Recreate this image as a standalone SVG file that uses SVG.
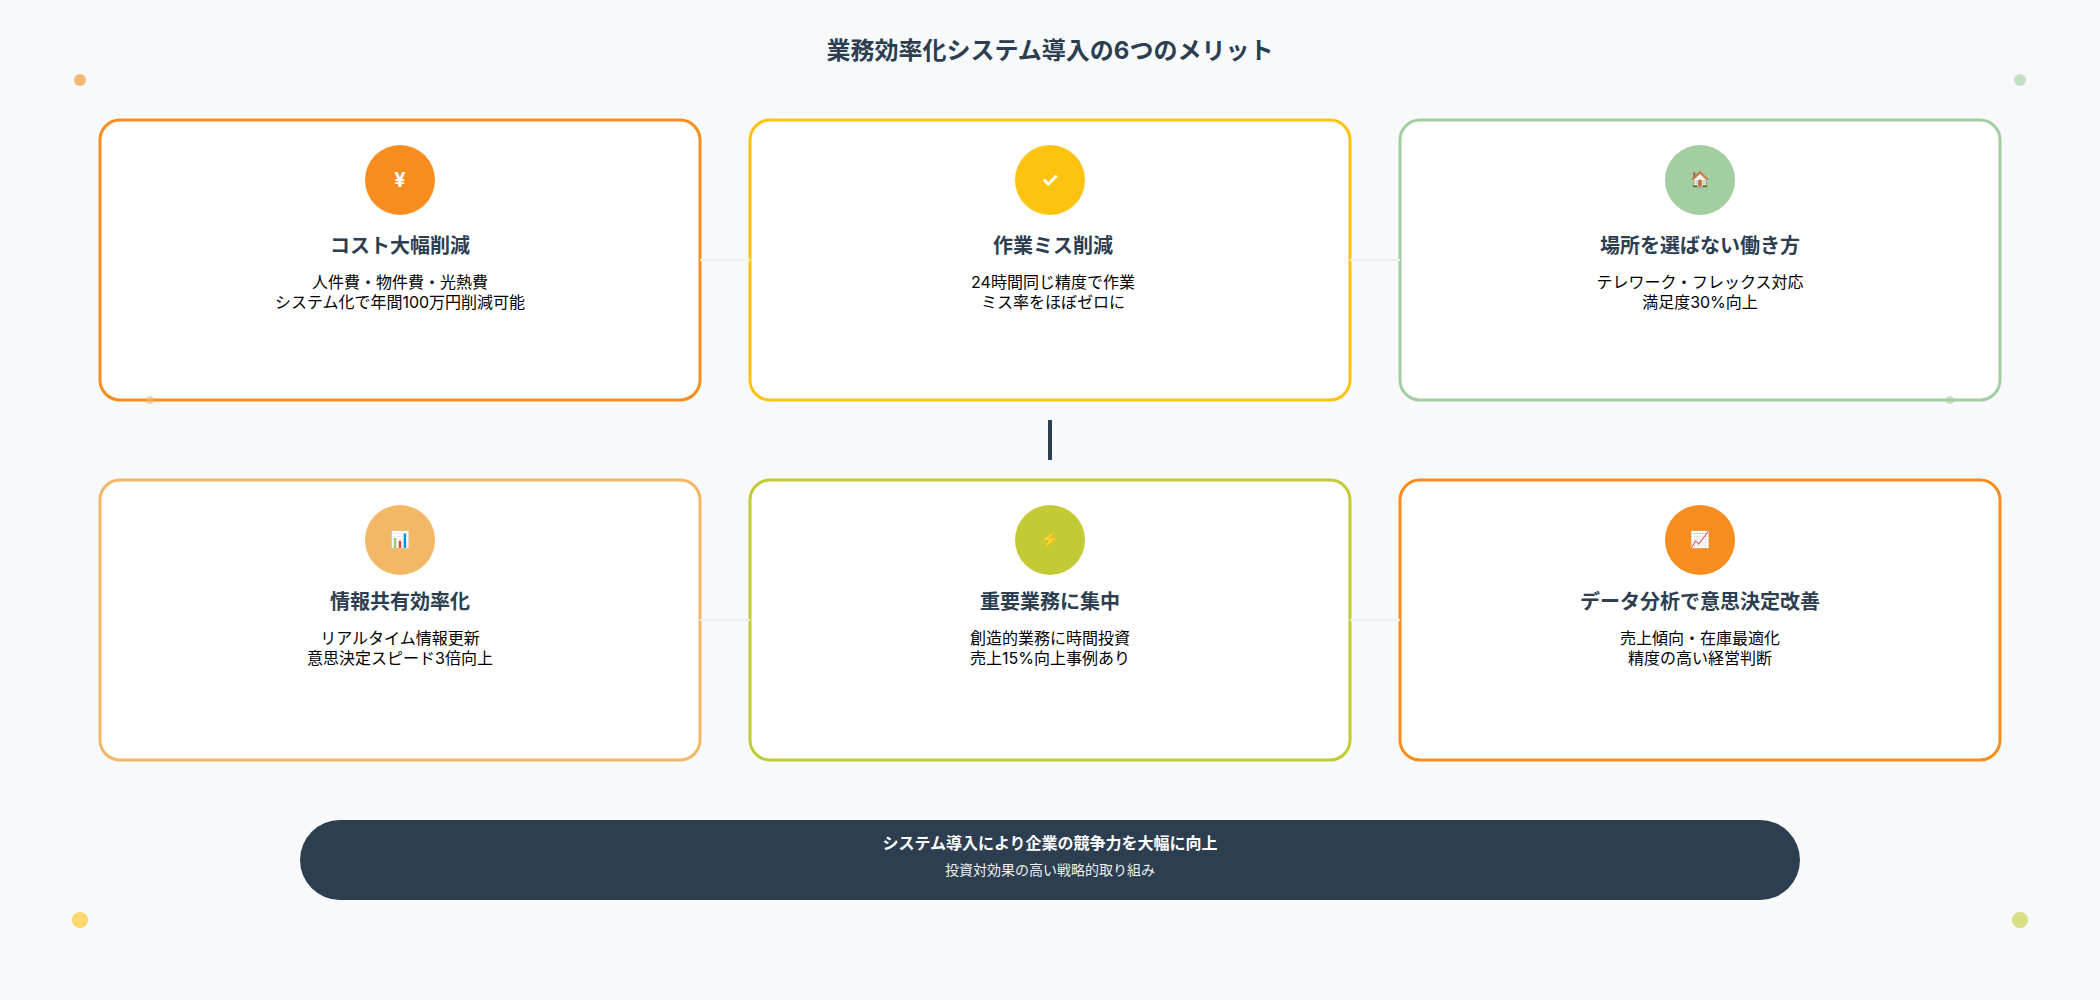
<svg xmlns="http://www.w3.org/2000/svg" width="2100" height="1000" viewBox="0 0 2100 1000">
<style>
text{font-family:Inter,"Noto Sans CJK JP","Noto Color Emoji",sans-serif;text-anchor:middle}
.card{fill:#fff;stroke-width:3}
.h{font-size:20px;font-weight:700;fill:#2c3e50}
.d{font-size:16px;fill:#000}
.i{font-size:16px;fill:#fff}
.g{font-size:20px;font-weight:700;fill:#fff}
.c{stroke:#ecf0f1;stroke-width:2;fill:none}
</style>
<rect width="2100" height="1000" fill="#f8f9fa"/>
<text x="1050" y="59" font-size="24" font-weight="700" fill="#2c3e50">業務効率化システム導入の6つのメリット</text>
<g id="card1"><rect class="card" x="100" y="120" width="600" height="280" rx="20" stroke="#f78c1f"/><circle cx="400" cy="180" r="35" fill="#f78c1f"/><text class="g" x="400" y="187">¥</text><text class="h" x="400" y="253">コスト大幅削減</text><text class="d" x="400" y="288">人件費・物件費・光熱費</text><text class="d" x="400" y="308">システム化で年間100万円削減可能</text></g>
<g id="card2"><rect class="card" x="750" y="120" width="600" height="280" rx="20" stroke="#fdc30f"/><circle cx="1050" cy="180" r="35" fill="#fdc30f"/><text class="g" x="1050" y="187">✓</text><text class="h" x="1053" y="253">作業ミス削減</text><text class="d" x="1053" y="288">24時間同じ精度で作業</text><text class="d" x="1053" y="308">ミス率をほぼゼロに</text></g>
<g id="card3"><rect class="card" x="1400" y="120" width="600" height="280" rx="20" stroke="#a3cea1"/><circle cx="1700" cy="180" r="35" fill="#a3cea1"/><text class="i" x="1700" y="185">🏠</text><text class="h" x="1700" y="253">場所を選ばない働き方</text><text class="d" x="1700" y="288">テレワーク・フレックス対応</text><text class="d" x="1700" y="308">満足度30%向上</text></g>
<g id="card4"><rect class="card" x="100" y="480" width="600" height="280" rx="20" stroke="#f2b866"/><circle cx="400" cy="540" r="35" fill="#f2b866"/><text class="i" x="400" y="545">📊</text><text class="h" x="400" y="609">情報共有効率化</text><text class="d" x="400" y="644">リアルタイム情報更新</text><text class="d" x="400" y="664">意思決定スピード3倍向上</text></g>
<g id="card5"><rect class="card" x="750" y="480" width="600" height="280" rx="20" stroke="#c2cb35"/><circle cx="1050" cy="540" r="35" fill="#c2cb35"/><text class="i" x="1050" y="545">⚡</text><text class="h" x="1050" y="609">重要業務に集中</text><text class="d" x="1050" y="644">創造的業務に時間投資</text><text class="d" x="1050" y="664">売上15%向上事例あり</text></g>
<g id="card6"><rect class="card" x="1400" y="480" width="600" height="280" rx="20" stroke="#f78c1f"/><circle cx="1700" cy="540" r="35" fill="#f78c1f"/><text class="i" x="1700" y="545">📈</text><text class="h" x="1700" y="609">データ分析で意思決定改善</text><text class="d" x="1700" y="644">売上傾向・在庫最適化</text><text class="d" x="1700" y="664">精度の高い経営判断</text></g>
<g id="connectors">
<line class="c" x1="700" y1="260" x2="750" y2="260"/><line class="c" x1="1350" y1="260" x2="1400" y2="260"/>
<line class="c" x1="700" y1="620" x2="750" y2="620"/><line class="c" x1="1350" y1="620" x2="1400" y2="620"/>
<line x1="1050" y1="420" x2="1050" y2="460" stroke="#2c3e50" stroke-width="4"/>
</g>
<g id="banner"><rect x="300" y="820" width="1500" height="80" rx="40" fill="#2c3e50"/><text x="1050" y="849" font-size="16" font-weight="700" fill="#fff">システム導入により企業の競争力を大幅に向上</text><text x="1050" y="875" font-size="14" fill="#ecf0f1">投資対効果の高い戦略的取り組み</text></g>
<g id="dots">
<circle cx="80" cy="80" r="6" fill="#f78c1f" opacity=".6"/><circle cx="2020" cy="80" r="6" fill="#a3cea1" opacity=".6"/>
<circle cx="80" cy="920" r="8" fill="#fdc30f" opacity=".6"/><circle cx="2020" cy="920" r="8" fill="#c2cb35" opacity=".6"/>
<circle cx="150" cy="400" r="4" fill="#f2b866" opacity=".6"/><circle cx="1950" cy="400" r="4" fill="#a3cea1" opacity=".6"/>
</g>
</svg>
